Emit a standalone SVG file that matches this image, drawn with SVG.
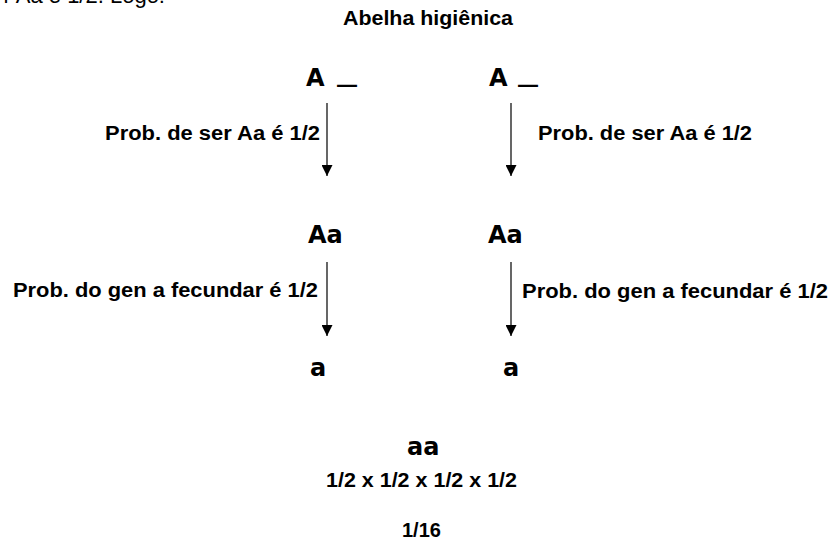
<svg xmlns="http://www.w3.org/2000/svg" width="829" height="540" viewBox="0 0 829 540">
<style>
.lbl{font-family:"Liberation Sans",Arial,sans-serif;font-weight:bold;font-size:20px;fill:#000}
.top{font-family:"Liberation Sans",Arial,sans-serif;font-size:22px;fill:#000}
.gen{font-family:"DejaVu Sans",sans-serif;font-weight:bold;font-size:24px;fill:#000}
.conn{stroke:#000;stroke-width:1.2;fill:none;marker-end:url(#ah)}
</style>
<defs>
<marker id="ah" markerUnits="userSpaceOnUse" markerWidth="11" markerHeight="11" refX="11" refY="5.5" orient="auto">
<path d="M0,0 L11,5.5 L0,11 z" fill="#000"/>
</marker>
</defs>
<rect width="829" height="540" fill="#fff"/>
<text class="top" x="165" y="3" text-anchor="end">r Aa é 1/2. Logo:</text>
<text id="title" class="lbl" x="343" y="25" textLength="170" lengthAdjust="spacingAndGlyphs">Abelha higiênica</text>
<g id="connectors">
<line class="conn" x1="327" y1="103" x2="327" y2="176"/>
<line class="conn" x1="511" y1="103" x2="511" y2="176"/>
<line class="conn" x1="327" y1="262" x2="327" y2="336"/>
<line class="conn" x1="511" y1="262" x2="511" y2="336"/>
<text class="lbl" x="105" y="140" textLength="215" lengthAdjust="spacingAndGlyphs">Prob. de ser Aa é 1/2</text>
<text class="lbl" x="538" y="140" textLength="214" lengthAdjust="spacingAndGlyphs">Prob. de ser Aa é 1/2</text>
<text class="lbl" x="13" y="297" textLength="305" lengthAdjust="spacingAndGlyphs">Prob. do gen a fecundar é 1/2</text>
<text class="lbl" x="522" y="298" textLength="306" lengthAdjust="spacingAndGlyphs">Prob. do gen a fecundar é 1/2</text>
</g>
<g id="nodeA1"><text class="gen" x="306" y="86">A <tspan x="337" dy="-5" textLength="20" lengthAdjust="spacingAndGlyphs">_</tspan></text></g>
<g id="nodeA2"><text class="gen" x="489" y="86">A <tspan x="518" dy="-5" textLength="20" lengthAdjust="spacingAndGlyphs">_</tspan></text></g>
<g id="nodeAa1"><text class="gen" x="308" y="243">Aa</text></g>
<g id="nodeAa2"><text class="gen" x="488" y="243">Aa</text></g>
<g id="nodea1"><text class="gen" x="310" y="376">a</text></g>
<g id="nodea2"><text class="gen" x="503" y="376">a</text></g>
<g id="result">
<text class="gen" x="407" y="455">aa</text>
<text class="lbl" x="326" y="487" textLength="191" lengthAdjust="spacingAndGlyphs">1/2 x 1/2 x 1/2 x 1/2</text>
<text class="lbl" x="402" y="537">1/16</text>
</g>
</svg>
